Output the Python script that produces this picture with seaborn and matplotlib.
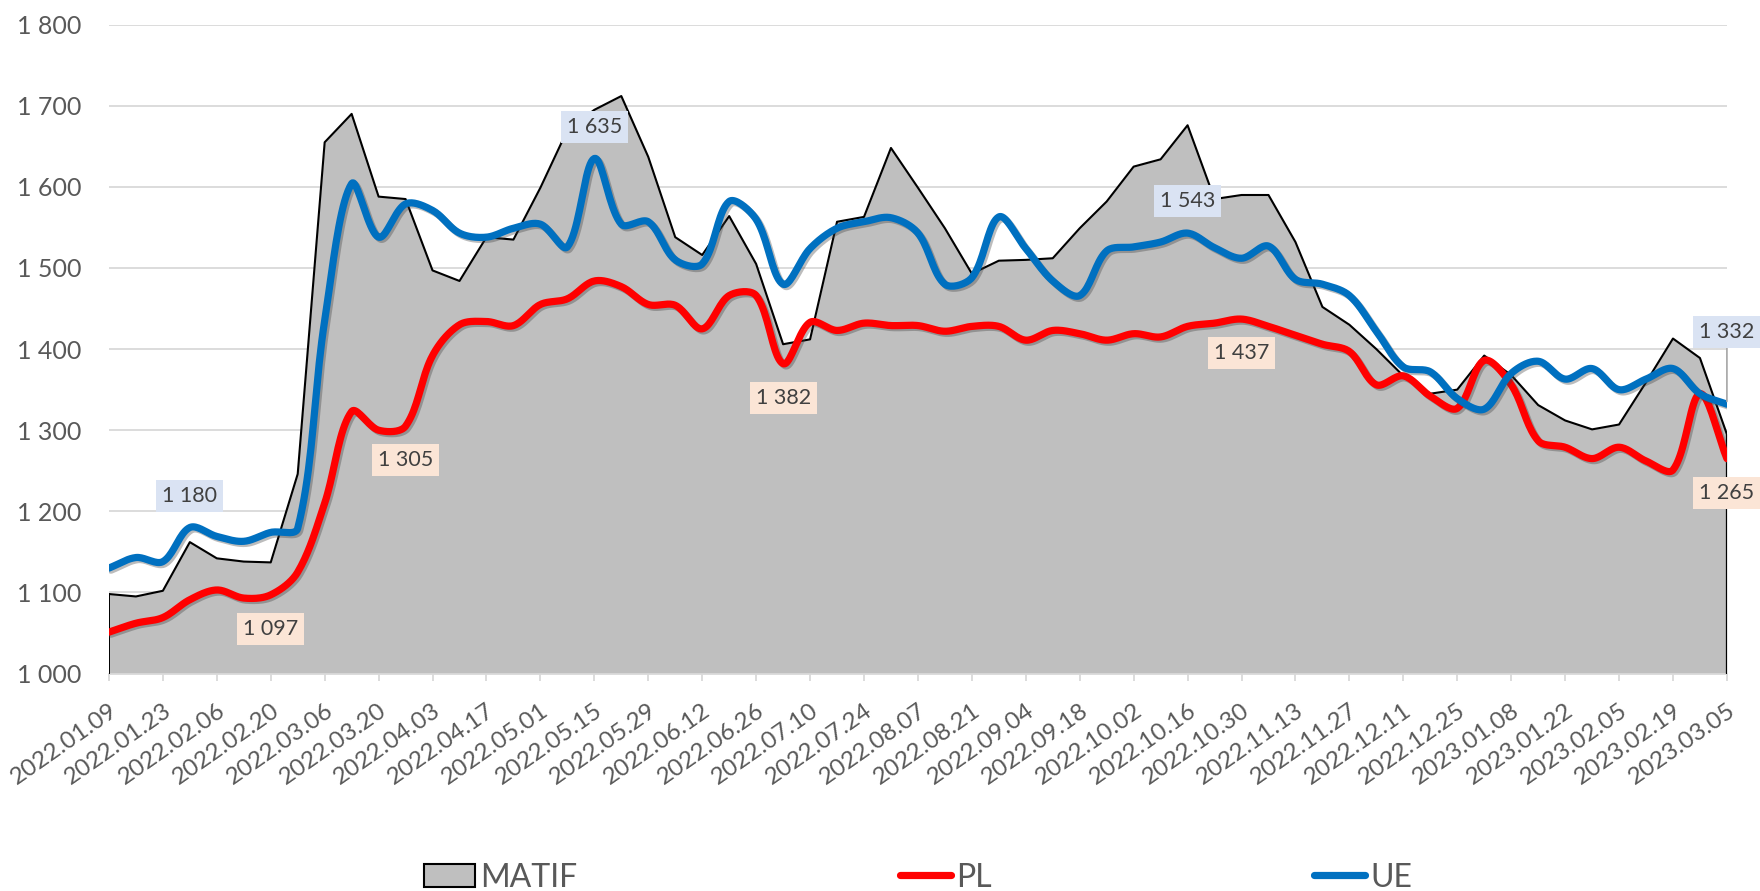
import numpy as np
import pandas as pd
import matplotlib
matplotlib.use("Agg")
import matplotlib.pyplot as plt
import matplotlib.patheffects as pe
from matplotlib.patches import Patch
from matplotlib.lines import Line2D
from matplotlib.ticker import FuncFormatter
import seaborn as sns

# weekly quotes, 2022.01.09 - 2023.03.05
weeks = pd.date_range("2022-01-09", periods=61, freq="7D")

matif = [1098, 1095, 1102, 1162, 1142, 1138, 1137, 1246, 1655, 1690,
         1588, 1585, 1497, 1484, 1538, 1535, 1599, 1670, 1695, 1712,
         1637, 1538, 1516, 1564, 1505, 1406, 1412, 1557, 1563, 1648,
         1599, 1549, 1493, 1509, 1510, 1512, 1549, 1582, 1625, 1634,
         1676, 1585, 1590, 1590, 1532, 1452, 1430, 1400, 1367, 1345,
         1350, 1392, 1368, 1331, 1312, 1301, 1307, 1359, 1413, 1389,
         1295]

pl = [1051, 1062, 1069, 1091, 1103, 1093, 1097, 1125, 1210, 1323,
      1300, 1305, 1392, 1430, 1434, 1429, 1455, 1462, 1484, 1477,
      1455, 1454, 1425, 1466, 1466, 1382, 1433, 1423, 1432, 1429,
      1429, 1422, 1428, 1428, 1411, 1423, 1419, 1411, 1419, 1415,
      1428, 1432, 1437, 1428, 1417, 1406, 1397, 1356, 1367, 1342,
      1327, 1386, 1356, 1287, 1279, 1265, 1279, 1262, 1251, 1345,
      1265]

ue = [1130, 1143, 1138, 1180, 1169, 1163, 1174, 1179, 1435, 1604,
      1538, 1579, 1571, 1543, 1538, 1549, 1554, 1526, 1635, 1554,
      1557, 1510, 1505, 1582, 1560, 1480, 1524, 1549, 1557, 1562,
      1543, 1480, 1488, 1563, 1524, 1484, 1466, 1521, 1526, 1532,
      1543, 1525, 1512, 1527, 1486, 1480, 1466, 1422, 1378, 1372,
      1339, 1326, 1370, 1385, 1363, 1376, 1350, 1363, 1376, 1345,
      1332]

# labelled points (index into the weekly series)
ue_labels = [3, 18, 40, 60]
pl_labels = [6, 11, 25, 42, 60]

tick_labels = [d.strftime("%Y.%m.%d") for d in weeks[::2]]

GRAY_TXT = "#595959"
RED = "#ff0000"
BLUE = "#0070c0"

# px per week / px per unit on screen, used to weight the smoothing like Excel does
SX, SY = 26.96, 0.811


def smooth(y, n=20):
    """Bezier curve through the points, control points weighted by chord length
    (close to Excel's 'smoothed line')."""
    y = np.asarray(y, float)
    x = np.arange(len(y), dtype=float)
    P = np.column_stack([x * SX, y * SY])
    Pe = np.vstack([P[0], P, P[-1]])
    d = np.linalg.norm(np.diff(Pe, axis=0), axis=1)  # d[k] = |Pe[k+1]-Pe[k]|
    t = np.linspace(0, 1, n, endpoint=False)[:, None]
    out = []
    for i in range(len(y) - 1):
        p0, p1, p2, p3 = Pe[i], Pe[i + 1], Pe[i + 2], Pe[i + 3]
        d01, d12, d23 = d[i], d[i + 1], d[i + 2]
        c1 = p1 + (p2 - p0) * d12 / (d01 + d12) / 3
        c2 = p2 - (p3 - p1) * d12 / (d12 + d23) / 3
        out.append((1 - t) ** 3 * p1 + 3 * (1 - t) ** 2 * t * c1
                   + 3 * (1 - t) * t ** 2 * c2 + t ** 3 * p2)
    out.append(P[-1:])
    pts = np.vstack(out)
    return pts[:, 0] / SX, pts[:, 1] / SY


sns.set_theme(style="white")
plt.rcParams["font.family"] = ["Lato", "DejaVu Sans"]

fig = plt.figure(figsize=(17.6, 8.91), dpi=100)
ax = fig.add_axes([0.0619, 0.2441, 0.9193, 0.7282])

idx = np.arange(len(weeks))

# MATIF area
ax.fill_between(idx, 1000, matif, color="#bfbfbf", lw=0, zorder=2)
outline = pd.DataFrame({"x": np.r_[0, idx, idx[-1]], "y": np.r_[1000, matif, 1000]})
ax.plot(outline["x"], outline["y"], color="black", lw=1.5, zorder=3)

shadow = [pe.SimpleLineShadow(offset=(1.5, -1.5), alpha=0.35, shadow_color="#404040"),
          pe.Normal()]

for series, color in [(pl, RED), (ue, BLUE)]:
    sx, sy = smooth(series)
    df = pd.DataFrame({"x": sx, "y": sy})
    sns.lineplot(data=df, x="x", y="y", ax=ax, color=color, lw=5.2,
                 sort=False, estimator=None, zorder=4,
                 path_effects=shadow, solid_capstyle="round")


def fmt(v):
    return f"{v:,.0f}".replace(",", " ")


for i in ue_labels:
    dy = 52 if i == len(weeks) - 1 else 23
    ax.annotate(fmt(ue[i]), (i, ue[i]), xytext=(0, dy), textcoords="offset points",
                ha="center", va="center", fontsize=15.5, color="#404040", zorder=6,
                annotation_clip=False,
                bbox=dict(boxstyle="square,pad=0.28", fc="#dae3f3", ec="none"),
                arrowprops=dict(arrowstyle="-", color="#a6a6a6", lw=1.2,
                                shrinkA=0, shrinkB=2) if dy > 30 else None)

for i in pl_labels:
    ax.annotate(fmt(pl[i]), (i, pl[i]), xytext=(0, -24.5), textcoords="offset points",
                ha="center", va="center", fontsize=15.5, color="#404040", zorder=6,
                annotation_clip=False,
                bbox=dict(boxstyle="square,pad=0.28", fc="#fbe5d6", ec="none"))

ax.set_xlim(0, len(weeks) - 1)
ax.set_ylim(1000, 1800)
ax.set_yticks(range(1000, 1801, 100))
ax.yaxis.set_major_formatter(FuncFormatter(lambda v, _: fmt(v)))
ax.set_xticks(idx[::2])
ax.set_xticklabels(tick_labels, rotation=35, ha="right", va="top",
                   rotation_mode="anchor")
ax.set_xlabel("")
ax.set_ylabel("")

ax.grid(axis="y", color="#d9d9d9", lw=1.3, zorder=0)
ax.grid(axis="x", visible=False)
ax.set_axisbelow(True)
for s in ["top", "right", "left"]:
    ax.spines[s].set_visible(False)
ax.spines["bottom"].set_color("#d9d9d9")
ax.spines["bottom"].set_linewidth(1.3)
ax.tick_params(axis="y", length=0, pad=20, labelsize=18, labelcolor=GRAY_TXT)
ax.tick_params(axis="x", bottom=True, length=5, width=1.3, color="#d9d9d9",
               pad=14, labelsize=17.5, labelcolor=GRAY_TXT)

handles = [Patch(facecolor="#bfbfbf", edgecolor="black", lw=1.5),
           Line2D([], [], color=RED, lw=5.2, solid_capstyle="round"),
           Line2D([], [], color=BLUE, lw=5.2, solid_capstyle="round")]
leg = fig.legend(handles, ["MATIF", "PL", "UE"], loc="center",
                 bbox_to_anchor=(0.5216, 0.015), ncol=3, frameon=False,
                 fontsize=23, columnspacing=10.1, handlelength=1.6,
                 handletextpad=0.15)
for t in leg.get_texts():
    t.set_color(GRAY_TXT)

fig.savefig("out.png", dpi=100)
